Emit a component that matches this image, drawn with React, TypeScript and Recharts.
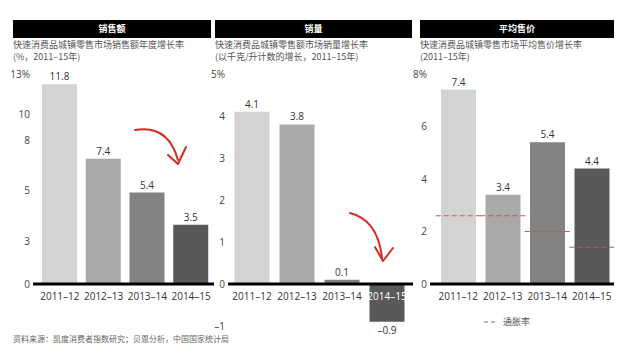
import {
  Bar,
  Cell,
  ComposedChart,
  LabelList,
  Line,
  ReferenceLine,
  XAxis,
  YAxis,
} from "recharts";

const years = ["2011–12", "2012–13", "2013–14", "2014–15"];
const salesGrowth = [11.8, 7.4, 5.4, 3.5];
const volumeGrowth = [4.1, 3.8, 0.1, -0.9];
const priceGrowth = [7.4, 3.4, 5.4, 4.4];
const inflation = [2.6, 2.6, 2.0, 1.4];

const salesTicks = [0, 2.5, 5.5, 8.5, 10, 12.4];
const salesTickLabels = ["0", "3", "5", "8", "10", "13%"];
const volumeTicks = [-1, 0, 1, 2, 3, 4, 5];
const volumeTickLabels = ["–1", "0", "1", "2", "3", "4", "5%"];
const priceTicks = [0, 2, 4, 6, 8];
const priceTickLabels = ["0", "2", "4", "6", "8%"];

const barColors = ["#d3d3d3", "#a9a9a9", "#838383", "#5a585a"];
const latin = "'Open Sans', sans-serif";
const cjk = "'Noto Sans CJK SC', sans-serif";
const textColor = "#333";

const salesData = years.map((y, i) => ({ year: y, value: salesGrowth[i] }));
const volumeData = years.map((y, i) => ({ year: y, value: volumeGrowth[i] }));
const priceData = years.map((y, i) => ({ year: y, value: priceGrowth[i], inflation: inflation[i] }));

const fmt = (v: number) => (v < 0 ? "–" + Math.abs(v) : String(v));

const valueLabel = (p: any) => {
  const { x, y, width, height, value } = p;
  const top = Math.min(y, y + height);
  const bottom = Math.max(y, y + height);
  const ty = value < 0 ? bottom + 12 : top - 4;
  return (
    <text x={x + width / 2} y={ty} textAnchor="middle" fontSize={10} fill={textColor} fontFamily={latin}>
      {fmt(value)}
    </text>
  );
};

const catTick = (shift: number, whiteIdx = -1) => (p: any) => (
  <text
    x={p.x}
    y={p.y + shift}
    textAnchor="middle"
    fontSize={10}
    fontFamily={latin}
    fill={p.index === whiteIdx ? "#fff" : textColor}
  >
    {p.payload.value}
  </text>
);

const yLabels = (ticks: number[], labels: string[]) => (v: number) => labels[ticks.indexOf(v)] ?? "";

const yTick = { fontSize: 10, fill: "#444", fontFamily: latin };

function Header({ left, width, title }: { left: number; width: number; title: string }) {
  return (
    <div
      style={{
        position: "absolute",
        left,
        top: 20,
        width,
        height: 18,
        background: "#000",
        color: "#fff",
        fontFamily: cjk,
        fontWeight: 700,
        fontSize: 9,
        lineHeight: "18px",
        textAlign: "center",
      }}
    >
      {title}
    </div>
  );
}

function Subtitle({ left, lines }: { left: number; lines: string[] }) {
  return (
    <div
      style={{
        position: "absolute",
        left,
        top: 39,
        fontFamily: cjk,
        fontSize: 9,
        lineHeight: "12px",
        color: "#555",
        whiteSpace: "nowrap",
      }}
    >
      {lines.map((l) => (
        <div key={l}>{l}</div>
      ))}
    </div>
  );
}

export default function App() {
  return (
    <div
      style={{
        position: "absolute",
        left: 0,
        top: 0,
        width: 644,
        height: 356,
        background: "#fff",
        overflow: "hidden",
      }}
    >
      <Header left={13} width={198} title="销售额" />
      <Header left={215} width={197} title="销量" />
      <Header left={420} width={194} title="平均售价" />
      <Subtitle left={13} lines={["快速消费品城镇零售市场销售额年度增长率", "(%，2011–15年)"]} />
      <Subtitle left={215} lines={["快速消费品城镇零售额市场销量增长率", "(以千克/升计数的增长，2011–15年)"]} />
      <Subtitle left={420} lines={["快速消费品城镇零售市场平均售价增长率", "(2011–15年)"]} />

      <div style={{ position: "absolute", left: 3, top: 64 }}>
        <ComposedChart width={211} height={248} data={salesData} margin={{ top: 10, right: 0, left: 0, bottom: 0 }}>
          <XAxis
            dataKey="year"
            height={28}
            padding={{ left: 5, right: 1 }}
            axisLine={{ stroke: "#000", strokeWidth: 3 }}
            tickLine={false}
            tickSize={0}
            tickMargin={0}
            interval={0}
            tick={catTick(16)}
          />
          <YAxis
            width={30}
            domain={[0, 12.4]}
            ticks={salesTicks}
            interval={0}
            tickFormatter={yLabels(salesTicks, salesTickLabels)}
            axisLine={false}
            tickLine={false}
            tickSize={0}
            tickMargin={3}
            tick={yTick}
          />
          <Bar dataKey="value" barSize={35} isAnimationActive={false}>
            {salesData.map((_, i) => (
              <Cell key={i} fill={barColors[i]} />
            ))}
            <LabelList dataKey="value" content={valueLabel} />
          </Bar>
        </ComposedChart>
      </div>

      <div style={{ position: "absolute", left: 198, top: 64 }}>
        <ComposedChart width={215} height={282} data={volumeData} margin={{ top: 10, right: 0, left: 0, bottom: 0 }}>
          <XAxis
            dataKey="year"
            height={20}
            padding={{ left: 1.5, right: 3.5 }}
            axisLine={false}
            tickLine={false}
            tickSize={0}
            tickMargin={0}
            interval={0}
            tick={catTick(-26, 3)}
          />
          <YAxis
            width={30}
            domain={[-1, 5]}
            ticks={volumeTicks}
            interval={0}
            tickFormatter={yLabels(volumeTicks, volumeTickLabels)}
            axisLine={false}
            tickLine={false}
            tickSize={0}
            tickMargin={3}
            tick={yTick}
          />
          <Bar dataKey="value" barSize={35} isAnimationActive={false}>
            {volumeData.map((_, i) => (
              <Cell key={i} fill={barColors[i]} />
            ))}
            <LabelList dataKey="value" content={valueLabel} />
          </Bar>
          <ReferenceLine y={0} stroke="#000" strokeWidth={3} />
        </ComposedChart>
      </div>

      <div style={{ position: "absolute", left: 400, top: 64 }}>
        <ComposedChart width={214} height={248} data={priceData} margin={{ top: 10, right: 0, left: 0, bottom: 0 }}>
          <XAxis
            dataKey="year"
            height={28}
            padding={{ left: 6, right: 0 }}
            axisLine={{ stroke: "#000", strokeWidth: 3 }}
            tickLine={false}
            tickSize={0}
            tickMargin={0}
            interval={0}
            tick={catTick(16)}
          />
          <YAxis
            width={30}
            domain={[0, 8]}
            ticks={priceTicks}
            interval={0}
            tickFormatter={yLabels(priceTicks, priceTickLabels)}
            axisLine={false}
            tickLine={false}
            tickSize={0}
            tickMargin={3}
            tick={yTick}
          />
          <Bar dataKey="value" barSize={35} isAnimationActive={false}>
            {priceData.map((_, i) => (
              <Cell key={i} fill={barColors[i]} />
            ))}
            <LabelList dataKey="value" content={valueLabel} />
          </Bar>
          <Line
            dataKey="inflation"
            stroke="none"
            isAnimationActive={false}
            activeDot={false}
            dot={(p: any) => (
              <line
                key={p.index}
                x1={p.cx - 22.5}
                x2={p.cx + 22.5}
                y1={p.cy}
                y2={p.cy}
                stroke="#c25a55"
                strokeWidth={1}
                strokeDasharray="5 3"
              />
            )}
          />
        </ComposedChart>
      </div>

      {/* hand-drawn arrows */}
      <svg width={644} height={356} style={{ position: "absolute", left: 0, top: 0, pointerEvents: "none" }}>
        <g fill="none" stroke="#d52b22" strokeWidth={2} strokeLinecap="round" strokeLinejoin="round">
          <path d="M135,130 Q168,124 178,160" />
          <path d="M168,155 L178,164 L186,147" />
          <path d="M350,213 Q378,220 382,258" />
          <path d="M375,247 L383,261 L393,248" />
        </g>
      </svg>

      <div style={{ position: "absolute", left: 484, top: 316, display: "flex", alignItems: "center", gap: 5 }}>
        <svg width={14} height={4}>
          <line x1={0} x2={14} y1={2} y2={2} stroke="#8a6a6a" strokeWidth={1} strokeDasharray="4 3" />
        </svg>
        <span style={{ fontFamily: cjk, fontSize: 9, color: "#555", lineHeight: "12px" }}>通胀率</span>
      </div>

      <div
        style={{
          position: "absolute",
          left: 13,
          top: 334,
          fontFamily: cjk,
          fontSize: 8,
          color: "#666",
          whiteSpace: "nowrap",
          lineHeight: "10px",
        }}
      >
        资料来源：凯度消费者指数研究；贝恩分析，中国国家统计局
      </div>
    </div>
  );
}
